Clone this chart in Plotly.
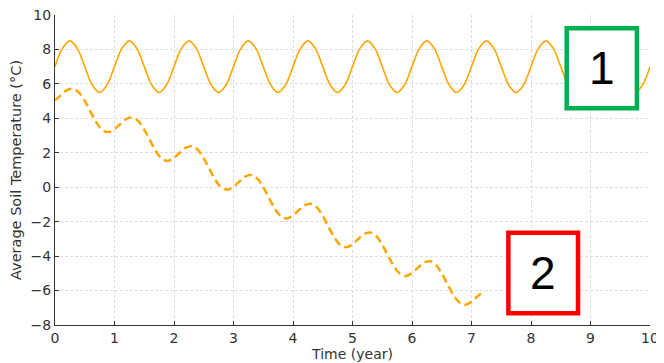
import plotly.graph_objects as go

# Series 1 (solid): time (year) and temperature
time_solid = [0, 0.125, 0.25, 0.375, 0.5, 0.625, 0.75, 0.875,
              1, 1.125, 1.25, 1.375, 1.5, 1.625, 1.75, 1.875,
              2, 2.125, 2.25, 2.375, 2.5, 2.625, 2.75, 2.875,
              3, 3.125, 3.25, 3.375, 3.5, 3.625, 3.75, 3.875,
              4, 4.125, 4.25, 4.375, 4.5, 4.625, 4.75, 4.875,
              5, 5.125, 5.25, 5.375, 5.5, 5.625, 5.75, 5.875,
              6, 6.125, 6.25, 6.375, 6.5, 6.625, 6.75, 6.875,
              7, 7.125, 7.25, 7.375, 7.5, 7.625, 7.75, 7.875,
              8, 8.125, 8.25, 8.375, 8.5, 8.625, 8.75, 8.875,
              9, 9.125, 9.25, 9.375, 9.5, 9.625, 9.75, 9.875, 10]
temp_solid = [7.0, 8.06, 8.5, 8.06, 7.0, 5.94, 5.5, 5.94,
              7.0, 8.06, 8.5, 8.06, 7.0, 5.94, 5.5, 5.94,
              7.0, 8.06, 8.5, 8.06, 7.0, 5.94, 5.5, 5.94,
              7.0, 8.06, 8.5, 8.06, 7.0, 5.94, 5.5, 5.94,
              7.0, 8.06, 8.5, 8.06, 7.0, 5.94, 5.5, 5.94,
              7.0, 8.06, 8.5, 8.06, 7.0, 5.94, 5.5, 5.94,
              7.0, 8.06, 8.5, 8.06, 7.0, 5.94, 5.5, 5.94,
              7.0, 8.06, 8.5, 8.06, 7.0, 5.94, 5.5, 5.94,
              7.0, 8.06, 8.5, 8.06, 7.0, 5.94, 5.5, 5.94,
              7.0, 8.06, 8.5, 8.06, 7.0, 5.94, 5.5, 5.94, 7.0]

# Series 2 (dashed)
time_dash = [0.0, 0.1, 0.2, 0.3, 0.4, 0.5, 0.6, 0.7, 0.8, 0.9,
             1.0, 1.1, 1.2, 1.3, 1.4, 1.5, 1.6, 1.7, 1.8, 1.9,
             2.0, 2.1, 2.2, 2.3, 2.4, 2.5, 2.6, 2.7, 2.8, 2.9,
             3.0, 3.1, 3.2, 3.3, 3.4, 3.5, 3.6, 3.7, 3.8, 3.9,
             4.0, 4.1, 4.2, 4.3, 4.4, 4.5, 4.6, 4.7, 4.8, 4.9,
             5.0, 5.1, 5.2, 5.3, 5.4, 5.5, 5.6, 5.7, 5.8, 5.9,
             6.0, 6.1, 6.2, 6.3, 6.4, 6.5, 6.6, 6.7, 6.8, 6.9,
             7.0, 7.1, 7.2]
temp_dash = [5.04, 5.35, 5.64, 5.72, 5.51, 5.01, 4.36, 3.74, 3.32, 3.20,
             3.37, 3.68, 3.97, 4.05, 3.84, 3.34, 2.69, 2.07, 1.65, 1.53,
             1.70, 2.01, 2.30, 2.38, 2.17, 1.67, 1.02, 0.40, -0.02, -0.14,
             0.03, 0.34, 0.63, 0.71, 0.50, 0.00, -0.65, -1.27, -1.69, -1.81,
             -1.64, -1.33, -1.04, -0.96, -1.17, -1.67, -2.32, -2.94, -3.36, -3.48,
             -3.31, -3.00, -2.71, -2.63, -2.84, -3.34, -3.99, -4.61, -5.03, -5.15,
             -4.98, -4.67, -4.38, -4.30, -4.51, -5.01, -5.66, -6.28, -6.70, -6.82,
             -6.65, -6.34, -6.05]

x_ticks = [0, 1, 2, 3, 4, 5, 6, 7, 8, 9, 10]
y_ticks = [-8, -6, -4, -2, 0, 2, 4, 6, 8, 10]

# Labelled boxes: (label, x0, x1, y0, y1, colour)
box_labels = ["1", "2"]
box_x0 = [8.6, 7.62]
box_x1 = [9.78, 8.79]
box_y0 = [4.58, -7.32]
box_y1 = [9.23, -2.64]
box_colors = ["#00B050", "#FF0000"]

ORANGE = "#FFA500"

fig = go.Figure()
fig.add_trace(go.Scatter(x=time_solid, y=temp_solid, mode="lines",
                         line=dict(color=ORANGE, width=1.6, shape="spline"),
                         showlegend=False))
fig.add_trace(go.Scatter(x=time_dash, y=temp_dash, mode="lines",
                         line=dict(color=ORANGE, width=2.5, shape="spline", dash="8px,4.5px"),
                         showlegend=False))

for lab, x0, x1, y0, y1, c in zip(box_labels, box_x0, box_x1, box_y0, box_y1, box_colors):
    fig.add_shape(type="rect", x0=x0, x1=x1, y0=y0, y1=y1, xref="x", yref="y",
                  fillcolor="white", line=dict(color=c, width=4.5), layer="above")
    fig.add_annotation(x=(x0 + x1) / 2, y=(y0 + y1) / 2, xref="x", yref="y",
                       text=lab, showarrow=False,
                       font=dict(family="Liberation Sans, Arial", size=46, color="black"))

axis_common = dict(
    showline=True, linecolor="#333333", linewidth=1.2,
    ticks="inside", ticklen=4, tickcolor="#333333", tickwidth=1,
    showgrid=True, gridcolor="#dedede", gridwidth=0.8, griddash="3px,2px",
    zeroline=False, mirror=False, automargin=False, ticklabeloverflow="allow",
    tickfont=dict(family="DejaVu Sans", size=14, color="#333333"),
)

fig.update_xaxes(range=[0, 10], tickvals=x_ticks,
                 title=dict(text="Time (year)", font=dict(family="DejaVu Sans", size=14, color="#333333"),
                            standoff=1),
                 **axis_common)
fig.update_yaxes(range=[-8, 10], tickvals=y_ticks,
                 title=dict(text="Average Soil Temperature (°C)",
                            font=dict(family="DejaVu Sans", size=14.5, color="#333333"),
                            standoff=7),
                 **axis_common)

# The page body adds an 8px margin, so the figure is sized to fit the window.
fig.update_layout(width=656, height=355,
                  margin=dict(l=47, r=14, t=7, b=38),
                  plot_bgcolor="white", paper_bgcolor="white")

fig.write_html("out.html")
